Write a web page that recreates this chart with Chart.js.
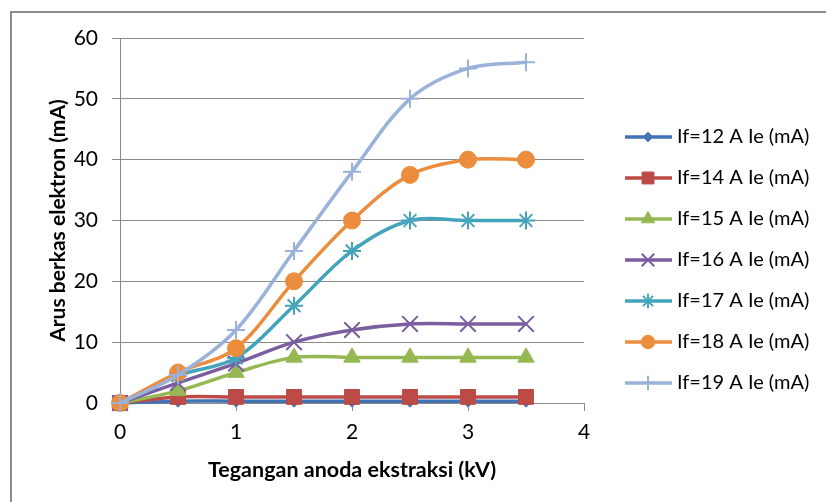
<!DOCTYPE html>
<html>
<head>
<meta charset="utf-8">
<script src="https://cdn.jsdelivr.net/npm/chart.js@4"></script>
<style>
  body { margin: 0; background: #fff; }
  #wrap { position: relative; width: 826px; height: 502px; overflow: hidden; }
  #frame { position: absolute; left: 10px; top: 11px; width: 900px; height: 600px; border: 2px solid #8c8c8c; }
  canvas { position: absolute; left: 0; top: 0; }
</style>
</head>
<body>
<div id="wrap">
  <div id="frame"></div>
  <canvas id="chart" width="826" height="502"></canvas>
</div>
<script>
// x values (kV)
const voltage = [0, 0.5, 1, 1.5, 2, 2.5, 3, 3.5];

const seriesNames = [
  "If=12 A Ie (mA)", "If=14 A Ie (mA)", "If=15 A Ie (mA)", "If=16 A Ie (mA)",
  "If=17 A Ie (mA)", "If=18 A Ie (mA)", "If=19 A Ie (mA)"
];

// electron beam current (mA)
const if12 = [0, 0.3, 0.3, 0.3, 0.3, 0.3, 0.3, 0.3];
const if14 = [0, 1, 1, 1, 1, 1, 1, 1];
const if15 = [0, 2, 5, 7.5, 7.5, 7.5, 7.5, 7.5];
const if16 = [0, 3.3, 6.5, 10, 12, 13, 13, 13];
const if17 = [0, 4.5, 7.4, 16, 25, 30, 30, 30];
const if18 = [0, 5, 9, 20, 30, 37.5, 40, 40];
const if19 = [0, 4.6, 12, 25, 38, 50, 55, 56];

const xTicks = [0, 1, 2, 3, 4];
const yTicks = [0, 10, 20, 30, 40, 50, 60];

const seriesValues = [if12, if14, if15, if16, if17, if18, if19];
const seriesColors = ["#4273b5", "#bc4a47", "#96b852", "#7b5e9f", "#44a4bb", "#ec8c3d", "#9ab2da"];
const markerStyles = ["rectRot", "rect", "triangle", "crossRot", "star", "circle", "cross"];
const markerSizes = [6, 10.5, 9.5, 11, 9, 8.5, 9];
const markerBorders = [1, 1, 1, 2, 2, 1, 2];

const datasets = seriesValues.map((vals, i) => ({
  label: seriesNames[i],
  data: vals.map((v, j) => ({ x: voltage[j], y: v })),
  borderColor: seriesColors[i],
  backgroundColor: seriesColors[i],
  pointBackgroundColor: seriesColors[i],
  pointBorderColor: seriesColors[i],
  pointBorderWidth: markerBorders[i],
  pointStyle: markerStyles[i],
  pointRadius: markerSizes[i],
  borderWidth: 3.5,
  tension: 0.33,
  showLine: true,
  clip: false,
  order: seriesValues.length - i
}));

// Excel-like legend: line with marker in the middle
const excelLegend = {
  id: "excelLegend",
  afterDraw(chart) {
    const ctx = chart.ctx;
    chart.data.datasets.forEach((ds, i) => {
      const y = 137 + i * 41;
      ctx.save();
      ctx.strokeStyle = ds.borderColor;
      ctx.lineWidth = 3.5;
      ctx.beginPath();
      ctx.moveTo(625, y);
      ctx.lineTo(672, y);
      ctx.stroke();
      ctx.fillStyle = ds.pointBackgroundColor;
      ctx.strokeStyle = ds.pointBorderColor;
      ctx.lineWidth = ds.pointBorderWidth;
      Chart.helpers.drawPoint(ctx, {
        pointStyle: ds.pointStyle,
        radius: ds.pointRadius * 0.8,
        borderWidth: ds.pointBorderWidth,
        rotation: 0
      }, 648, y);
      ctx.fillStyle = "#000";
      ctx.font = "20px Lato";
      ctx.textBaseline = "middle";
      ctx.textAlign = "left";
      ctx.fillText(ds.label, 677, y);
      ctx.restore();
    });
  }
};

const gridGray = "#8a8a8a";

new Chart(document.getElementById("chart"), {
  type: "scatter",
  data: { datasets },
  plugins: [excelLegend],
  options: {
    responsive: false,
    animation: false,
    layout: { padding: { top: 38, right: 242, left: 0, bottom: 0 } },
    plugins: {
      legend: { display: false },
      tooltip: { enabled: false }
    },
    scales: {
      x: {
        type: "linear",
        min: 0,
        max: 4,
        afterBuildTicks: s => { s.ticks = xTicks.map(v => ({ value: v })); },
        afterFit: s => { s.height = 99; },
        grid: { drawOnChartArea: false, tickLength: 8, color: gridGray },
        border: { color: gridGray },
        ticks: { color: "#000", padding: 9, font: { family: "Lato", size: 21 } },
        title: {
          display: true,
          text: "Tegangan anoda ekstraksi (kV)",
          color: "#000",
          font: { family: "Lato", size: 21.5, weight: "bold" },
          padding: { top: 0, bottom: 19 }
        }
      },
      y: {
        min: 0,
        max: 60,
        afterBuildTicks: s => { s.ticks = yTicks.map(v => ({ value: v })); },
        afterFit: s => { s.width = 120; },
        grid: { tickLength: 8, color: gridGray },
        border: { color: gridGray },
        ticks: { color: "#000", padding: 14, font: { family: "Lato", size: 21 } },
        title: {
          display: true,
          text: "Arus berkas elektron (mA)",
          color: "#000",
          font: { family: "Lato", size: 21, weight: "bold" },
          padding: { top: 46, bottom: 0 }
        }
      }
    }
  }
});
</script>
</body>
</html>
